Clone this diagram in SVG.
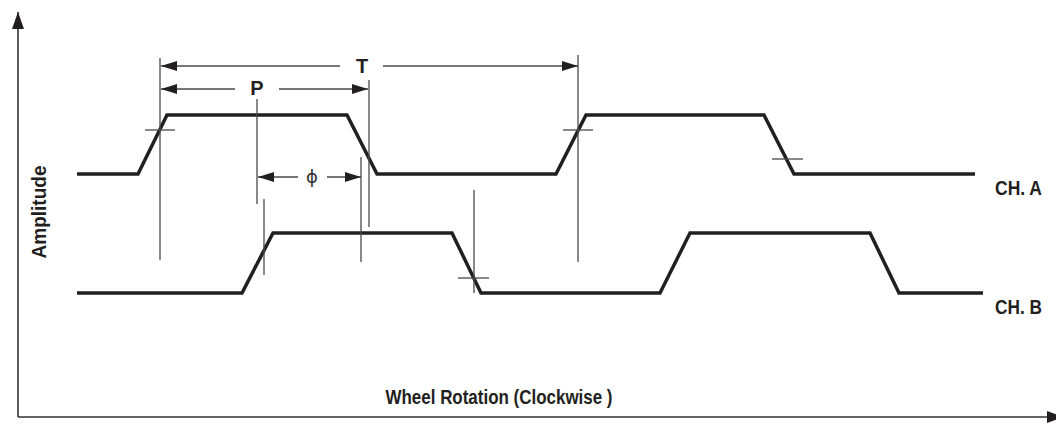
<svg xmlns="http://www.w3.org/2000/svg" width="1056" height="425" viewBox="0 0 1056 425">
<style>
.wave{fill:none;stroke:#231f20;stroke-width:3.5;stroke-linejoin:miter}
.thin{fill:none;stroke:#4a4a4a;stroke-width:1.3}
.dim{fill:none;stroke:#4a4a4a;stroke-width:1.3}
.axis{fill:none;stroke:#333;stroke-width:1.6}
.lbl{font-family:"Liberation Sans",Arial,sans-serif;font-weight:bold;font-size:20px;fill:#231f20}
.phi{font-family:"DejaVu Sans","Liberation Sans",sans-serif;font-size:18px;fill:#333}
</style>
<defs>
<marker id="ah" viewBox="0 0 16 10" refX="16" refY="5" markerWidth="16" markerHeight="10" markerUnits="userSpaceOnUse" orient="auto">
<path d="M0,0 L16,5 L0,10 z" fill="#231f20"/>
</marker>
<marker id="axh" viewBox="0 0 17 12" refX="17" refY="6" markerWidth="17" markerHeight="12" markerUnits="userSpaceOnUse" orient="auto">
<path d="M0,0 L17,6 L0,12 z" fill="#231f20"/>
</marker>
</defs>
<rect width="1056" height="425" fill="#fff"/>
<g id="axes">
<line class="axis" x1="18" y1="417" x2="18" y2="12" marker-end="url(#axh)"/>
<line class="axis" x1="18" y1="417" x2="1064" y2="417" marker-end="url(#axh)"/>
<text class="lbl" transform="translate(46,212) rotate(-90)" text-anchor="middle" textLength="93" lengthAdjust="spacingAndGlyphs">Amplitude</text>
<text class="lbl" x="499" y="404" text-anchor="middle" textLength="227" lengthAdjust="spacingAndGlyphs">Wheel Rotation (Clockwise )</text>
</g>
<g id="chA">
<polyline class="wave" points="77,174 138,174 167,115 347,115 377,174 556,174 586,115 764,115 794,174 975,174"/>
<text class="lbl" x="995" y="195" textLength="47" lengthAdjust="spacingAndGlyphs">CH. A</text>
</g>
<g id="chB">
<polyline class="wave" points="77,293 242,293 273,233 452,233 481,293 660,293 690,233 870,233 899,293 983,293"/>
<text class="lbl" x="995" y="314" textLength="47" lengthAdjust="spacingAndGlyphs">CH. B</text>
</g>
<g id="references">
<line class="thin" x1="160" y1="58" x2="160" y2="260"/>
<line class="thin" x1="578" y1="55" x2="578" y2="262"/>
<line class="thin" x1="257" y1="99" x2="257" y2="204"/>
<line class="thin" x1="264" y1="199" x2="264" y2="275"/>
<line class="thin" x1="361" y1="157" x2="361" y2="262"/>
<line class="thin" x1="369" y1="80" x2="369" y2="227"/>
<line class="thin" x1="474" y1="190" x2="474" y2="293"/>
<line class="thin" x1="145" y1="130" x2="175" y2="130"/>
<line class="thin" x1="563" y1="130" x2="593" y2="130"/>
<line class="thin" x1="772" y1="159" x2="803" y2="159"/>
<line class="thin" x1="458" y1="278" x2="489" y2="278"/>
</g>
<g id="connectors">
<line class="dim" x1="340" y1="66" x2="161" y2="66" marker-end="url(#ah)"/>
<line class="dim" x1="383" y1="66" x2="578" y2="66" marker-end="url(#ah)"/>
<line class="dim" x1="235" y1="89" x2="161" y2="89" marker-end="url(#ah)"/>
<line class="dim" x1="279" y1="89" x2="368" y2="89" marker-end="url(#ah)"/>
<line class="dim" x1="298" y1="177" x2="258" y2="177" marker-end="url(#ah)"/>
<line class="dim" x1="327" y1="177" x2="361" y2="177" marker-end="url(#ah)"/>
</g>
<g id="labels">
<text class="lbl" x="362" y="73" text-anchor="middle">T</text>
<text class="lbl" x="257" y="95" text-anchor="middle">P</text>
<text class="phi" x="312" y="183" text-anchor="middle">ϕ</text>
</g>
</svg>
